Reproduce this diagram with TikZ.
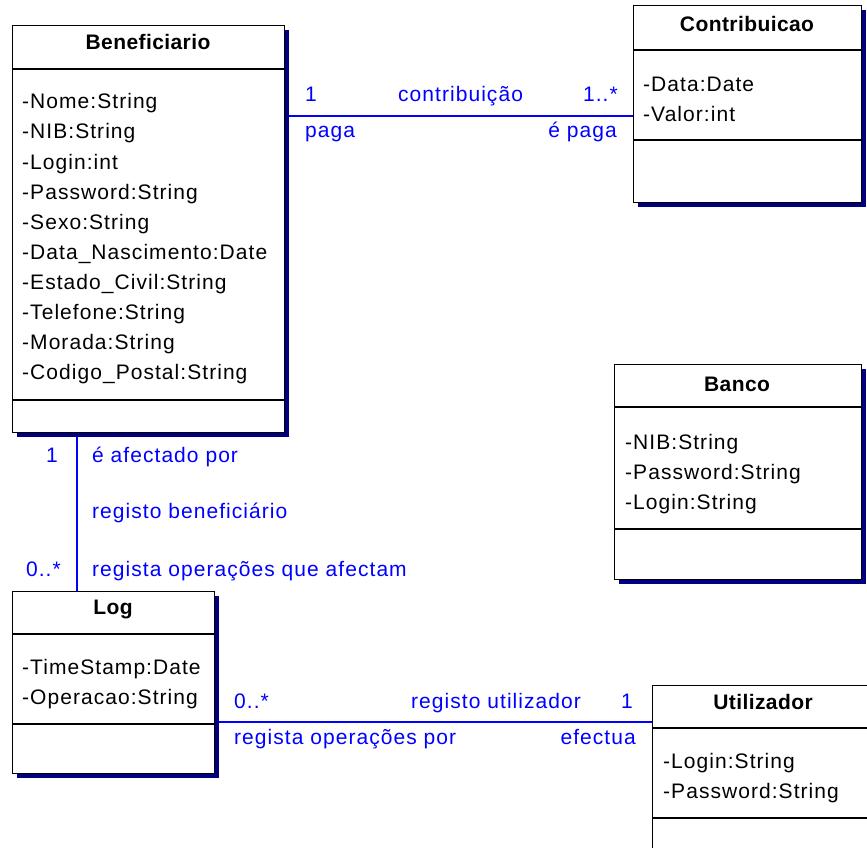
\documentclass[tikz,border=0pt]{standalone}
\usepackage{fontspec}
\setmainfont{Liberation Sans}[LetterSpace=5, BoldFeatures={LetterSpace=2}]
\usetikzlibrary{shadows,calc,backgrounds}
\definecolor{shadowblue}{RGB}{0,0,128}
\definecolor{assocblue}{RGB}{0,0,255}
\newcommand{\umlfont}{\fontsize{21}{25}\selectfont}
\tikzset{
  classbox/.style={draw=black, fill=white, line width=1.3pt, inner sep=0pt, anchor=north west,
    drop shadow={shadow xshift=4pt, shadow yshift=-4pt, fill=shadowblue, opacity=1}},
  sepline/.style={draw=black, line width=1.3pt},
  classtitle/.style={font=\umlfont\bfseries, inner sep=0pt, anchor=base},
  attr/.style={font=\umlfont, inner sep=0pt, anchor=base west},
  assoc/.style={draw=assocblue, line width=1.3pt},
  alabel/.style={font=\umlfont, text=assocblue, inner sep=0pt, anchor=base west},
  alabelr/.style={font=\umlfont, text=assocblue, inner sep=0pt, anchor=base east}
}
\begin{document}
\begin{tikzpicture}[x=1pt,y=-1pt]
\clip (0,0) rectangle (867,848);

% classes
\node[classbox, minimum width=272pt, minimum height=407pt] (ben) at (12,25) {};
\node[classbox, minimum width=228pt, minimum height=197pt] (con) at (633,5) {};
\node[classbox, minimum width=247pt, minimum height=215pt] (ban) at (614,364) {};
\node[classbox, minimum width=202pt, minimum height=182pt] (log) at (12,591) {};
\node[classbox, minimum width=240pt, minimum height=200pt] (uti) at (652,685) {};

% separators
\draw[sepline] (12,69) -- (284,69);  \draw[sepline] (12,400) -- (284,400);
\draw[sepline] (633,50) -- (861,50); \draw[sepline] (633,140) -- (861,140);
\draw[sepline] (614,407) -- (861,407); \draw[sepline] (614,529) -- (861,529);
\draw[sepline] (12,634) -- (214,634); \draw[sepline] (12,724) -- (214,724);
\draw[sepline] (652,728) -- (892,728); \draw[sepline] (652,818) -- (892,818);

% titles
\node[classtitle] (benT) at (148,50) {Beneficiario};
\node[classtitle] (conT) at (747,32) {Contribuicao};
\node[classtitle] (banT) at (737,391) {Banco};
\node[classtitle] (logT) at (113,614) {Log};
\node[classtitle] (utiT) at (763,709) {Utilizador};

% attributes
\foreach \t [count=\i from 0] in {-Nome:String,-NIB:String,-Login:int,-Password:String,-Sexo:String,-Data\_Nascimento:Date,-Estado\_Civil:String,-Telefone:String,-Morada:String,-Codigo\_Postal:String}
  \node[attr] (benA\i) at (22,109+30*\i) {\t};
\node[attr] (conA0) at (643,92) {-Data:Date};
\node[attr] (conA1) at (643,122) {-Valor:int};
\node[attr] (banA0) at (625,449) {-NIB:String};
\node[attr] (banA1) at (625,479) {-Password:String};
\node[attr] (banA2) at (625,509) {-Login:String};
\node[attr] (logA0) at (22,674) {-TimeStamp:Date};
\node[attr] (logA1) at (22,704) {-Operacao:String};
\node[attr] (utiA0) at (663,768) {-Login:String};
\node[attr] (utiA1) at (663,798) {-Password:String};

% associations (behind boxes)
\begin{scope}[on background layer]
\fill[white] (0,0) rectangle (867,848);
\draw[assoc] (ben.east |- 0,116) -- (con.west |- 0,116);
\draw[assoc] ($(ben.south west)+(65,0)$) -- ($(log.north west)+(65,0)$);
\draw[assoc] (log.east |- 0,722) -- (uti.west |- 0,722);
\end{scope}

% association labels
\node[alabel] (l1) at (305,102) {1};
\node[alabel] (l2) at (398,102) {contribuição};
\node[alabelr] (l3) at (618,102) {1..*};
\node[alabel] (l4) at (305,138) {paga};
\node[alabelr] (l5) at (617,138) {é paga};
\node[alabelr] (l6) at (58,462) {1};
\node[alabel] (l7) at (92,462) {é afectado por};
\node[alabel] (l8) at (92,518) {registo beneficiário};
\node[alabelr] (l9) at (61,576) {0..*};
\node[alabel] (l10) at (92,576) {regista operações que afectam};
\node[alabel] (l11) at (234,708) {0..*};
\node[alabel] (l12) at (411,708) {registo utilizador};
\node[alabelr] (l13) at (633,708) {1};
\node[alabel] (l14) at (234,744) {regista operações por};
\node[alabelr] (l15) at (636,744) {efectua};
\end{tikzpicture}
\end{document}
